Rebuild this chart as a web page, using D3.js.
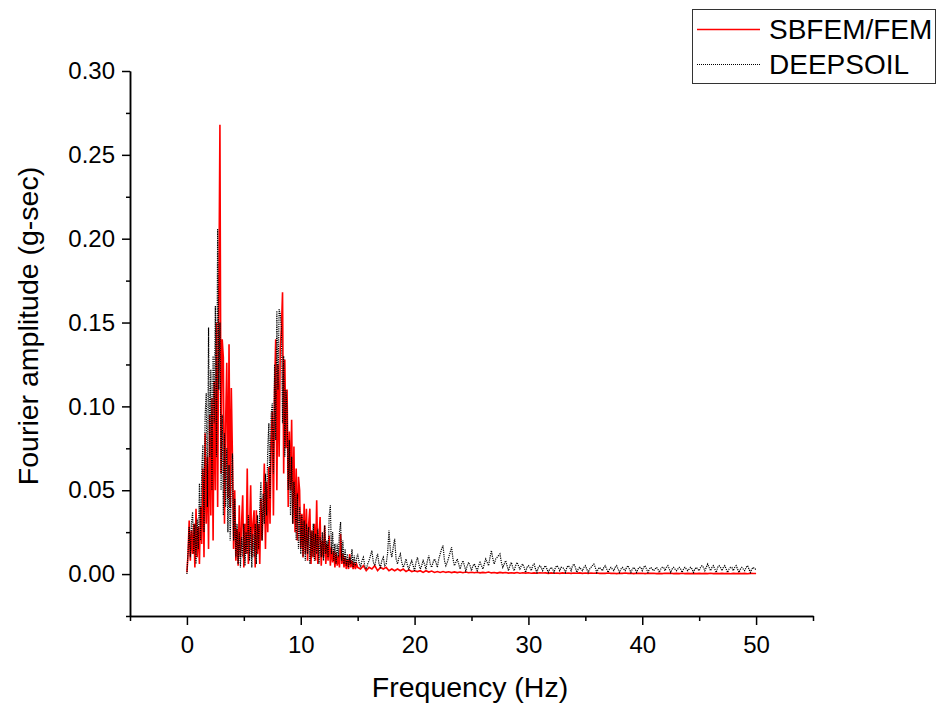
<!DOCTYPE html>
<html>
<head>
<meta charset="utf-8">
<script src="https://cdn.jsdelivr.net/npm/d3@7"></script>
<style>
  body { margin: 0; background: #fff; }
  svg text { font-family: Arial, "Liberation Sans", sans-serif; fill: #000; }
</style>
</head>
<body>
<div id="chart"></div>
<script>
// Fourier amplitude spectra
// 0 - 15 Hz sampled every 0.1 Hz; above 15 Hz SBFEM every 0.25 Hz, DEEPSOIL every 0.125 Hz
var seriesNames = ["SBFEM/FEM", "DEEPSOIL"];

var sbfemLow = [
  0.001, 0.012, 0.032, 0.008, 0.026, 0.012, 0.030, 0.004, 0.039, 0.010,
  0.028, 0.006, 0.040, 0.018, 0.063, 0.010, 0.084, 0.030, 0.070, 0.015,
  0.095, 0.035, 0.105, 0.020, 0.115, 0.050, 0.150, 0.040, 0.160, 0.268,
  0.060, 0.140, 0.129, 0.030, 0.090, 0.126, 0.045, 0.137, 0.040, 0.111,
  0.070, 0.015, 0.050, 0.008, 0.027, 0.005, 0.041, 0.010, 0.030, 0.047,
  0.004, 0.030, 0.012, 0.063, 0.006, 0.025, 0.053, 0.010, 0.030, 0.038,
  0.004, 0.038, 0.012, 0.030, 0.006, 0.045, 0.020, 0.040, 0.066, 0.015,
  0.055, 0.025, 0.064, 0.030, 0.080, 0.097, 0.035, 0.110, 0.140, 0.050,
  0.125, 0.070, 0.135, 0.146, 0.168, 0.060, 0.128, 0.075, 0.110, 0.040,
  0.085, 0.050, 0.092, 0.030, 0.076, 0.025, 0.063, 0.020, 0.058, 0.050,
  0.015, 0.036, 0.010, 0.042, 0.012, 0.039, 0.008, 0.030, 0.039, 0.006,
  0.026, 0.010, 0.030, 0.008, 0.044, 0.006, 0.022, 0.034, 0.005, 0.020,
  0.010, 0.029, 0.006, 0.018, 0.008, 0.023, 0.005, 0.016, 0.007, 0.014,
  0.004, 0.013, 0.005, 0.011, 0.004, 0.024, 0.006, 0.012, 0.004, 0.010,
  0.003, 0.009, 0.003, 0.012, 0.004, 0.008, 0.003, 0.007, 0.003, 0.006,
  0.004
];
var sbfemHigh = [
  0.003, 0.005, 0.002, 0.004, 0.003, 0.005, 0.002, 0.004, 0.003, 0.004,
  0.002, 0.003, 0.002, 0.003, 0.002, 0.003, 0.0015, 0.0025, 0.0015, 0.002,
  0.0015, 0.002, 0.001, 0.002, 0.0012, 0.0018, 0.001, 0.0015, 0.001, 0.0015,
  0.001, 0.0014, 0.0009, 0.0013, 0.0009, 0.0012, 0.0008, 0.0012, 0.0008, 0.0011,
  0.0008, 0.0011, 0.0007, 0.0010, 0.0008, 0.0012, 0.0007, 0.0009, 0.0006, 0.0010,
  0.0007, 0.0009, 0.0006, 0.0008, 0.0006, 0.0009, 0.0005, 0.0008, 0.0006, 0.0008,
  0.0005, 0.0007, 0.0005, 0.0008, 0.0006, 0.0007, 0.0004, 0.0007, 0.0005, 0.0006,
  0.0004, 0.0007, 0.0005, 0.0006, 0.0004, 0.0006, 0.0005, 0.0007, 0.0004, 0.0006,
  0.0004, 0.0006, 0.0005, 0.0006, 0.0004, 0.0005, 0.0004, 0.0006, 0.0004, 0.0005,
  0.0003, 0.0005, 0.0004, 0.0006, 0.0004, 0.0005, 0.0003, 0.0005, 0.0004, 0.0005,
  0.0003, 0.0005, 0.0004, 0.0005, 0.0003, 0.0004, 0.0003, 0.0005, 0.0004, 0.0005,
  0.0003, 0.0004, 0.0003, 0.0005, 0.0003, 0.0004, 0.0003, 0.0004, 0.0003, 0.0004,
  0.0003, 0.0004, 0.0003, 0.0005, 0.0003, 0.0004, 0.0003, 0.0004, 0.0003, 0.0004,
  0.0002, 0.0004, 0.0003, 0.0004, 0.0003, 0.0004, 0.0002, 0.0004, 0.0003, 0.0003
];

var deepsoilLow = [
  0.000, 0.014, 0.028, 0.010, 0.030, 0.037, 0.012, 0.030, 0.006, 0.033,
  0.015, 0.054, 0.020, 0.062, 0.077, 0.025, 0.095, 0.108, 0.040, 0.147,
  0.070, 0.122, 0.050, 0.130, 0.090, 0.160, 0.070, 0.206, 0.110, 0.150,
  0.050, 0.095, 0.035, 0.084, 0.040, 0.075, 0.025, 0.065, 0.020, 0.055,
  0.072, 0.020, 0.045, 0.010, 0.030, 0.006, 0.025, 0.004, 0.022, 0.010,
  0.030, 0.005, 0.025, 0.012, 0.035, 0.008, 0.028, 0.004, 0.024, 0.010,
  0.030, 0.006, 0.035, 0.015, 0.040, 0.055, 0.020, 0.048, 0.030, 0.060,
  0.035, 0.075, 0.090, 0.045, 0.095, 0.102, 0.060, 0.125, 0.080, 0.157,
  0.110, 0.158, 0.155, 0.147, 0.090, 0.130, 0.070, 0.110, 0.098, 0.050,
  0.080, 0.035, 0.070, 0.030, 0.055, 0.045, 0.020, 0.048, 0.015, 0.040,
  0.012, 0.035, 0.010, 0.032, 0.008, 0.030, 0.012, 0.028, 0.006, 0.026,
  0.010, 0.030, 0.008, 0.024, 0.012, 0.027, 0.006, 0.022, 0.010, 0.025,
  0.008, 0.029, 0.012, 0.020, 0.010, 0.035, 0.041, 0.012, 0.025, 0.008,
  0.018, 0.006, 0.018, 0.010, 0.025, 0.031, 0.008, 0.020, 0.006, 0.015,
  0.005, 0.012, 0.004, 0.010, 0.006, 0.015, 0.004, 0.011, 0.005, 0.009,
  0.012
];
var deepsoilHigh = [
  // 15.125 - 20 Hz
  0.007, 0.004, 0.008, 0.010, 0.005, 0.003, 0.006, 0.008,
  0.011, 0.014, 0.007, 0.005, 0.009, 0.012, 0.006, 0.004,
  0.008, 0.010, 0.005, 0.006, 0.012, 0.026, 0.014, 0.010,
  0.016, 0.021, 0.009, 0.006, 0.010, 0.012, 0.007, 0.004,
  0.006, 0.009, 0.005, 0.003, 0.006, 0.008, 0.005, 0.002,
  // 20.125 - 25 Hz
  0.007, 0.010, 0.006, 0.003, 0.005, 0.008, 0.006, 0.003,
  0.008, 0.011, 0.006, 0.004, 0.007, 0.009, 0.007, 0.004,
  0.009, 0.012, 0.015, 0.017, 0.008, 0.005, 0.007, 0.010,
  0.013, 0.016, 0.009, 0.005, 0.007, 0.009, 0.006, 0.003,
  0.006, 0.008, 0.005, 0.002, 0.005, 0.007, 0.005, 0.002,
  // 25.125 - 30 Hz
  0.005, 0.006, 0.004, 0.002, 0.005, 0.007, 0.005, 0.003,
  0.006, 0.009, 0.007, 0.005, 0.010, 0.014, 0.009, 0.006,
  0.009, 0.010, 0.011, 0.012, 0.007, 0.004, 0.006, 0.008,
  0.005, 0.002, 0.005, 0.007, 0.004, 0.002, 0.005, 0.007,
  0.005, 0.003, 0.005, 0.006, 0.004, 0.001, 0.004, 0.005,
  // 30.125 - 35 Hz
  0.004, 0.002, 0.005, 0.006, 0.003, 0.001, 0.004, 0.005,
  0.004, 0.002, 0.004, 0.005, 0.003, 0.001, 0.003, 0.004,
  0.003, 0.001, 0.004, 0.005, 0.004, 0.002, 0.004, 0.004,
  0.003, 0.001, 0.004, 0.005, 0.004, 0.002, 0.005, 0.006,
  0.004, 0.001, 0.003, 0.004, 0.003, 0.002, 0.004, 0.005,
  // 35.125 - 40 Hz
  0.003, 0.001, 0.003, 0.004, 0.005, 0.006, 0.004, 0.001,
  0.003, 0.004, 0.003, 0.002, 0.004, 0.005, 0.003, 0.001,
  0.003, 0.004, 0.003, 0.002, 0.004, 0.005, 0.003, 0.001,
  0.003, 0.004, 0.003, 0.002, 0.004, 0.005, 0.003, 0.001,
  0.003, 0.004, 0.003, 0.001, 0.003, 0.004, 0.004, 0.002,
  // 40.125 - 45 Hz
  0.004, 0.005, 0.003, 0.001, 0.003, 0.004, 0.003, 0.002,
  0.003, 0.004, 0.003, 0.001, 0.003, 0.004, 0.004, 0.002,
  0.004, 0.005, 0.003, 0.001, 0.003, 0.004, 0.003, 0.002,
  0.003, 0.004, 0.003, 0.001, 0.003, 0.004, 0.003, 0.002,
  0.003, 0.004, 0.003, 0.001, 0.003, 0.004, 0.003, 0.002,
  // 45.125 - 50 Hz
  0.004, 0.005, 0.004, 0.002, 0.004, 0.006, 0.004, 0.002,
  0.004, 0.005, 0.003, 0.001, 0.004, 0.005, 0.004, 0.002,
  0.004, 0.005, 0.003, 0.001, 0.003, 0.004, 0.004, 0.002,
  0.004, 0.005, 0.003, 0.001, 0.003, 0.004, 0.003, 0.002,
  0.004, 0.005, 0.003, 0.001, 0.003, 0.004, 0.003, 0.003
];

var xMajorTicks = [0, 10, 20, 30, 40, 50];
var xMinorTicks = [-5, 5, 15, 25, 35, 45, 55];
var yMajorTicks = [0, 0.05, 0.10, 0.15, 0.20, 0.25, 0.30];
var yMinorTicks = [-0.025, 0.025, 0.075, 0.125, 0.175, 0.225, 0.275];

// sample grid of the spectra: 0.1 Hz up to 15 Hz, then the coarser step
function toPoints(low, high, highStep)
{
  var f = d3.range(0, low.length).map(function(i) { return i / 10; })
    .concat(d3.range(1, high.length + 1).map(function(i) { return 15 + i * highStep; }));
  return low.concat(high).map(function(v, i) { return { f: f[i], a: v }; });
}

var sbfem = toPoints(sbfemLow, sbfemHigh, 0.25);
var deepsoil = toPoints(deepsoilLow, deepsoilHigh, 0.125);

var width = 938, height = 706;
var margin = { top: 71, right: 125, bottom: 90, left: 130 };

var svg = d3.select("#chart").append("svg")
  .attr("width", width)
  .attr("height", height);

var x = d3.scaleLinear()
  .domain([-5, 55])
  .range([margin.left, width - margin.right]);

var y = d3.scaleLinear()
  .domain([-0.025, 0.30])
  .range([height - margin.bottom, margin.top]);

var line = d3.line()
  .x(function(d) { return x(d.f); })
  .y(function(d) { return y(d.a); });

svg.append("path")
  .datum(sbfem)
  .attr("fill", "none")
  .attr("stroke", "#ff0000")
  .attr("stroke-width", 1.6)
  .attr("stroke-linejoin", "miter")
  .attr("d", line);

svg.append("path")
  .datum(deepsoil)
  .attr("fill", "none")
  .attr("stroke", "#000")
  .attr("stroke-width", 1.2)
  .attr("stroke-dasharray", "1.2,1")
  .attr("d", line);

// axes
svg.append("g")
  .attr("transform", "translate(" + margin.left + ",0)")
  .call(d3.axisLeft(y).tickValues(yMajorTicks).tickFormat(d3.format(".2f"))
    .tickSize(8).tickSizeOuter(0).tickPadding(7));

svg.append("g")
  .attr("transform", "translate(" + margin.left + ",0)")
  .call(d3.axisLeft(y).tickValues(yMinorTicks).tickFormat("").tickSize(4).tickSizeOuter(0));

svg.append("g")
  .attr("transform", "translate(0," + (height - margin.bottom) + ")")
  .call(d3.axisBottom(x).tickValues(xMajorTicks).tickFormat(d3.format("d"))
    .tickSize(9).tickSizeOuter(0).tickPadding(11));

svg.append("g")
  .attr("transform", "translate(0," + (height - margin.bottom) + ")")
  .call(d3.axisBottom(x).tickValues(xMinorTicks).tickFormat("").tickSize(5).tickSizeOuter(0));

svg.selectAll(".domain, .tick line")
  .attr("stroke", "#000")
  .attr("stroke-width", 1.5);

svg.selectAll(".tick text")
  .style("font-size", "24px")
  .style("font-family", "Arial, 'Liberation Sans', sans-serif");

// axis titles
svg.append("text")
  .attr("x", 470)
  .attr("y", 697)
  .style("text-anchor", "middle")
  .style("font-size", "28.5px")
  .text("Frequency (Hz)");

svg.append("text")
  .attr("transform", "translate(38,326) rotate(-90)")
  .style("text-anchor", "middle")
  .style("font-size", "28.5px")
  .text("Fourier amplitude (g-sec)");

// legend
var legend = svg.append("g");

legend.append("rect")
  .attr("x", 692.5)
  .attr("y", 9.5)
  .attr("width", 243)
  .attr("height", 74)
  .attr("fill", "#fff")
  .attr("stroke", "#333")
  .attr("stroke-width", 1);

var legendItems = [
  { name: seriesNames[0], color: "#ff0000", dash: null, w: 1.3 },
  { name: seriesNames[1], color: "#000", dash: "1,1", w: 1 }
];

legendItems.forEach(function(d, i)
{
  var ly = 29.5 + i * 35;
  legend.append("line")
    .attr("x1", 697).attr("x2", 760)
    .attr("y1", ly).attr("y2", ly)
    .attr("stroke", d.color)
    .attr("stroke-width", d.w)
    .attr("stroke-dasharray", d.dash);
  legend.append("text")
    .attr("x", 769)
    .attr("y", ly + 9.5)
    .style("font-size", "28px")
    .text(d.name);
});
</script>
</body>
</html>
